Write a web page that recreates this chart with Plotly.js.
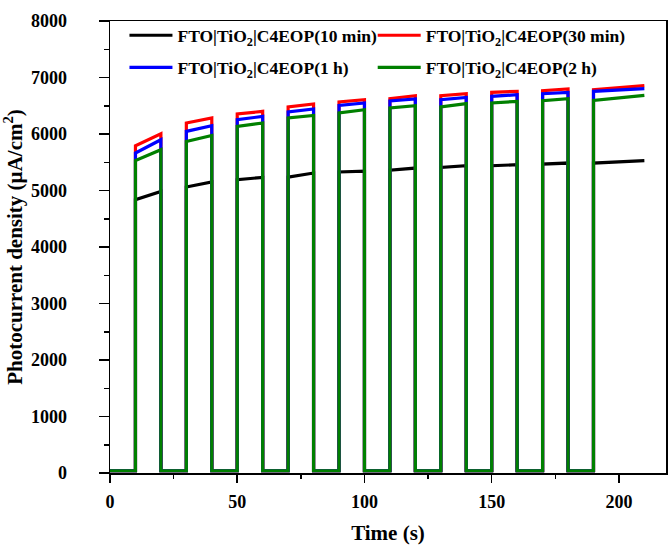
<!DOCTYPE html>
<html>
<head>
<meta charset="utf-8">
<script src="https://cdn.plot.ly/plotly-3.0.1.min.js"></script>
<style>html,body{margin:0;padding:0;background:#fff;}#chart{width:671px;height:546px;}</style>
</head>
<body>
<div id="chart"></div>
<script>
// Light-on periods (s)
const onStart = [10, 30, 50, 70, 90, 110, 130, 150, 170, 190];
const onEnd   = [20, 40, 60, 80, 100, 120, 140, 160, 180, 210];
const tStart = 0;

const seriesNames = [
  "FTO|TiO<sub>2</sub>|C4EOP(10 min)",
  "FTO|TiO<sub>2</sub>|C4EOP(30 min)",
  "FTO|TiO<sub>2</sub>|C4EOP(1 h)",
  "FTO|TiO<sub>2</sub>|C4EOP(2 h)"
];
const seriesColors = ["#000000", "#ff0000", "#0000ff", "#008000"];
const legendIds = ["legend", "legend2", "legend3", "legend4"];

// Dark current (µA/cm2)
const offVal = [40, 40, 40, 40];

// Photocurrent at start / end of each light-on period
const startVals10min = [4836, 5061, 5190, 5238, 5327, 5360, 5409, 5438, 5468, 5486];
const endVals10min   = [4983, 5150, 5232, 5309, 5344, 5397, 5438, 5456, 5486, 5527];
const startVals30min = [5793, 6195, 6354, 6478, 6567, 6625, 6678, 6737, 6767, 6785];
const endVals30min   = [6005, 6283, 6401, 6531, 6608, 6678, 6714, 6755, 6797, 6856];
const startVals1h    = [5663, 6046, 6253, 6390, 6507, 6585, 6608, 6666, 6714, 6755];
const endVals1h      = [5899, 6147, 6312, 6443, 6549, 6620, 6648, 6696, 6737, 6802];
const startVals2h    = [5532, 5869, 6135, 6283, 6372, 6461, 6478, 6549, 6590, 6595];
const endVals2h      = [5722, 5975, 6195, 6329, 6430, 6501, 6537, 6578, 6625, 6684];

const starts = [startVals10min, startVals30min, startVals1h, startVals2h];
const ends = [endVals10min, endVals30min, endVals1h, endVals2h];

function buildSeries(s, e, off) {
  const x = [tStart], y = [off];
  for (let i = 0; i < onStart.length; i++) {
    x.push(onStart[i], onStart[i], onEnd[i]);
    y.push(off, s[i], e[i]);
    if (i < onStart.length - 1) {
      x.push(onEnd[i]);
      y.push(off);
    }
  }
  return {x, y};
}

const traces = seriesNames.map((name, k) => {
  const d = buildSeries(starts[k], ends[k], offVal[k]);
  return {
    x: d.x, y: d.y, name: name, type: "scatter", mode: "lines",
    legend: legendIds[k],
    line: {color: seriesColors[k], width: 3.2}
  };
});

const fontFam = "Liberation Serif";
const legendCommon = {
  orientation: "v", xanchor: "left", yanchor: "top",
  itemwidth: 43,
  bgcolor: "rgba(0,0,0,0)", font: {family: fontFam, size: 17.5, weight: 700, color: "#000"}
};
const col1 = 0.026, col2 = 0.4725, row1 = 1.008, row2 = 0.937;
const layout = {
  width: 671, height: 546,
  margin: {l: 110, r: 5, t: 21, b: 73},
  paper_bgcolor: "#fff", plot_bgcolor: "#fff",
  font: {family: fontFam, size: 17, color: "#000", weight: 700},
  showlegend: true,
  legend: Object.assign({}, legendCommon, {x: col1, y: row1}),
  legend2: Object.assign({}, legendCommon, {x: col2, y: row1}),
  legend3: Object.assign({}, legendCommon, {x: col1, y: row2}),
  legend4: Object.assign({}, legendCommon, {x: col2, y: row2}),
  xaxis: {
    range: [0, 218.5], showline: true, mirror: true, linecolor: "#000", linewidth: 1.5,
    showgrid: false, zeroline: false,
    tickmode: "linear", tick0: 0, dtick: 50, ticks: "outside", ticklen: 8, tickwidth: 1.5, tickcolor: "#000",
    minor: {dtick: 25, ticks: "outside", ticklen: 4, tickwidth: 1.5, tickcolor: "#000"},
    tickfont: {family: fontFam, size: 18, weight: 700, color: "#000"},
    ticklabelstandoff: 4,
    title: {text: "Time (s)", font: {family: fontFam, size: 21, weight: 700}, standoff: 14}
  },
  yaxis: {
    range: [0, 8000], showline: true, mirror: true, linecolor: "#000", linewidth: 1.5,
    showgrid: false, zeroline: false,
    tickmode: "linear", tick0: 0, dtick: 1000, ticks: "outside", ticklen: 10, tickwidth: 1.5, tickcolor: "#000",
    minor: {dtick: 500, ticks: "outside", ticklen: 5, tickwidth: 1.5, tickcolor: "#000"},
    tickfont: {family: fontFam, size: 18, weight: 700, color: "#000"},
    ticklabelstandoff: 28,
    title: {text: "Photocurrent density (µA/cm<sup>2</sup>)", font: {family: fontFam, size: 21, weight: 700}, standoff: 4}
  }
};

Plotly.newPlot("chart", traces, layout, {displayModeBar: false, staticPlot: true});
</script>
</body>
</html>
